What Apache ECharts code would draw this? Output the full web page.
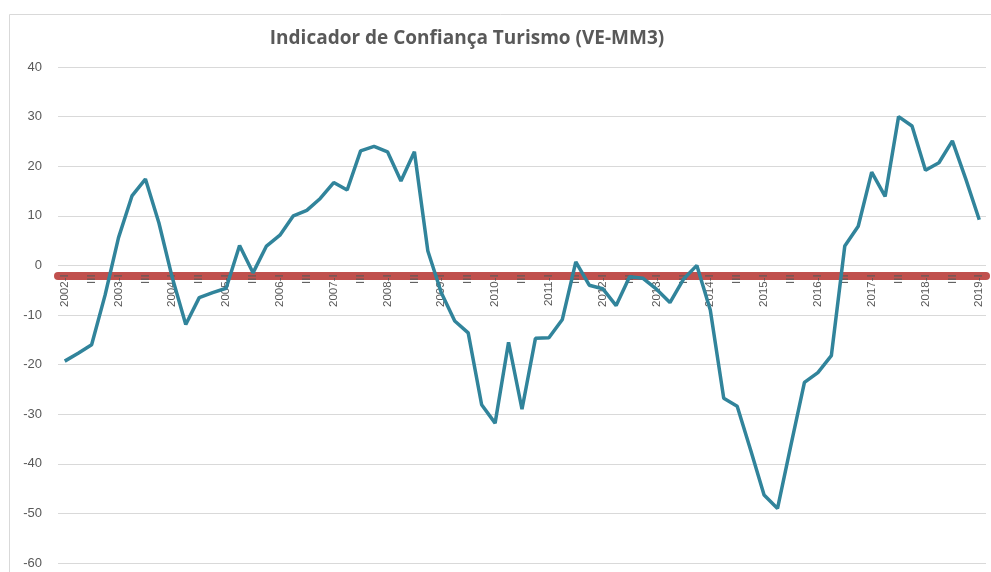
<!DOCTYPE html>
<html>
<head>
<meta charset="utf-8">
<script src="https://cdn.jsdelivr.net/npm/echarts@6/dist/echarts.min.js"></script>
<style>
  html, body { margin: 0; padding: 0; background: #fff; }
  #chart { width: 991px; height: 572px; }
</style>
</head>
<body>
<div id="chart"></div>
<script>
// anos e trimestres do eixo x
var years = [2002, 2003, 2004, 2005, 2006, 2007, 2008, 2009, 2010,
  2011, 2012, 2013, 2014, 2015, 2016, 2017, 2018, 2019];
var quarters = ["I", "II", "III", "IV"];

// Indicador de Confiança Turismo (VE-MM3), trimestral 2002-I .. 2019-I
var values = [
  -19.3, -17.7, -16.0, -6.0,      // 2002
  5.6, 14.0, 17.4, 8.6,           // 2003
  -2.5, -11.9, -6.5, -5.5,        // 2004
  -4.6, 4.0, -1.5, 3.9,           // 2005
  6.1, 10.0, 11.1, 13.5,          // 2006
  16.7, 15.2, 23.1, 24.0,         // 2007
  22.9, 17.0, 22.9, 2.9,          // 2008
  -5.5, -11.2, -13.6, -28.1,      // 2009
  -31.8, -15.5, -29.0, -14.7,     // 2010
  -14.6, -10.9, 0.7, -4.0,        // 2011
  -4.7, -8.1, -2.3, -2.6,         // 2012
  -4.8, -7.5, -2.8, 0.0,          // 2013
  -9.0, -26.8, -28.4, -37.2,      // 2014
  -46.3, -49.0, -36.2, -23.6,     // 2015
  -21.6, -18.2, 3.9, 7.9,         // 2016
  18.8, 13.9, 30.0, 28.1,         // 2017
  19.2, 20.7, 25.1, 17.4,         // 2018
  9.2                             // 2019
];

var yMin = -60, yMax = 40;
// nível onde o eixo horizontal cruza
var axisCross = -2;

var categories = [];
years.forEach(function (y) {
  quarters.forEach(function (q) {
    if (categories.length < values.length) {
      categories.push(q === "I" ? y + "-" + q : q);
    }
  });
});

var gridTop = 67, gridBottom = 9, H = 572;
var plotH = H - gridTop - gridBottom;
// sobe o eixo x até o valor axisCross
var xOffset = -plotH * (axisCross - yMin) / (yMax - yMin);

var chart = echarts.init(document.getElementById("chart"));
var option = {
  animation: false,
  title: {
    text: "Indicador de Confiança Turismo (VE-MM3)",
    left: 467,
    top: 29,
    padding: 0,
    textAlign: "center",
    textStyle: {
      fontFamily: "Open Sans",
      fontSize: 19,
      fontWeight: "bold",
      color: "#595959"
    }
  },
  graphic: [{
    type: "rect",
    left: 7,
    top: 12,
    shape: { width: 1000, height: 600 },
    style: { fill: "none", stroke: "#d9d9d9", lineWidth: 1 },
    silent: true
  }],
  grid: {
    left: 58,
    right: 5,
    top: gridTop,
    bottom: gridBottom,
    containLabel: false,
    outerBoundsMode: "none"
  },
  xAxis: {
    type: "category",
    data: categories,
    boundaryGap: true,
    position: "bottom",
    offset: xOffset,
    axisLine: {
      onZero: false,
      lineStyle: { color: "#C0504D", width: 8, cap: "round" }
    },
    axisTick: { show: false },
    axisLabel: {
      interval: 1,
      rotate: 90,
      margin: -1,
      fontFamily: "Liberation Sans",
      fontSize: 11.5,
      color: "#595959"
    },
    splitLine: { show: false }
  },
  yAxis: {
    type: "value",
    min: yMin,
    max: yMax,
    interval: 10,
    axisLine: { show: false },
    axisTick: { show: false },
    axisLabel: {
      margin: 16,
      fontFamily: "Liberation Sans",
      fontSize: 13,
      color: "#595959"
    },
    splitLine: { lineStyle: { color: "#d9d9d9", width: 1 } }
  },
  series: [{
    type: "line",
    data: values,
    symbol: "none",
    lineStyle: { color: "#31849B", width: 3.5 },
    itemStyle: { color: "#31849B" },
    z: 3
  }]
};
chart.setOption(option);
</script>
</body>
</html>
